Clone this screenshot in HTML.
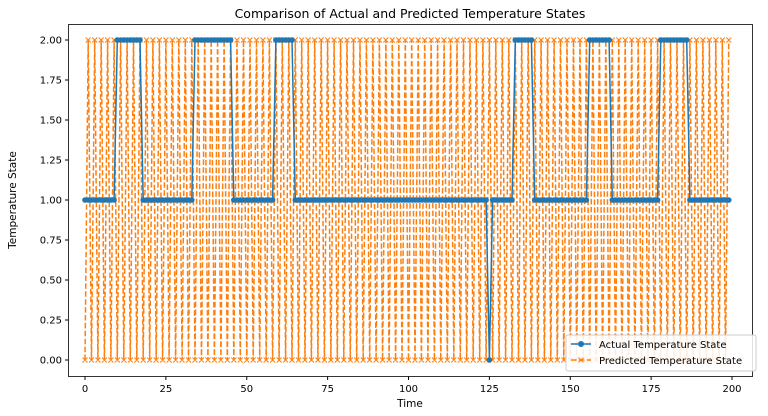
<!DOCTYPE html>
<html><head><meta charset="utf-8"><style>body{margin:0;background:#fff}svg{display:block;font-family:"DejaVu Sans","Liberation Sans",sans-serif}</style></head>
<body>
<svg id="s" width="768" height="416" xmlns="http://www.w3.org/2000/svg"></svg>
<script>
const s=document.getElementById('s');
const X=i=>85+3.235*i, Y=v=>360-160*v;
let h='<rect width="768" height="416" fill="#fff"/>';
let pd='';const pred=[];
for(let i=0;i<200;i++){pred.push(i%2?2:0);}
pred.forEach((v,i)=>{pd+=(i?'L':'M')+X(i).toFixed(1)+' '+Y(v);});
h+='<path d="'+pd+'" fill="none" stroke="#ff7f0e" stroke-width="1.5" stroke-dasharray="5.5,2.4"/>';
let mk='';pred.forEach((v,i)=>{const x=X(i),y=Y(v);mk+=`M${x-2.5} ${y-2.5}L${x+2.5} ${y+2.5}M${x-2.5} ${y+2.5}L${x+2.5} ${y-2.5}`;});
h+='<path d="'+mk+'" stroke="#ff7f0e" stroke-width="1"/>';
const act=[];for(let i=0;i<200;i++){let v=1;
if((i>=10&&i<=17)||(i>=34&&i<=45)||(i>=59&&i<=64)||(i>=133&&i<=138)||(i>=156&&i<=162)||(i>=178&&i<=186))v=2;
if(i==125)v=0;act.push(v);}
let ad='';act.forEach((v,i)=>{ad+=(i?'L':'M')+X(i).toFixed(1)+' '+Y(v);});
h+='<path d="'+ad+'" fill="none" stroke="#1f77b4" stroke-width="1.5"/>';
act.forEach((v,i)=>{h+=`<circle cx="${X(i).toFixed(1)}" cy="${Y(v)}" r="2.8" fill="#1f77b4"/>`;});
h+='<rect x="68.5" y="24.5" width="684" height="352" fill="none" stroke="#000" stroke-width="0.8"/>';
[0,25,50,75,100,125,150,175,200].forEach(t=>{const x=X(t);h+=`<line x1="${x}" y1="376.5" x2="${x}" y2="380" stroke="#000"/><text x="${x}" y="392" font-size="10" text-anchor="middle">${t}</text>`;});
for(let k=0;k<=8;k++){const v=k*0.25,y=Y(v);h+=`<line x1="65" y1="${y}" x2="68.5" y2="${y}" stroke="#000"/><text x="62" y="${y+3.5}" font-size="10" text-anchor="end">${v.toFixed(2)}</text>`;}
h+='<text x="410" y="407" font-size="10.5" text-anchor="middle">Time</text>';
h+='<text transform="translate(16,200) rotate(-90)" font-size="10.5" text-anchor="middle">Temperature State</text>';
h+='<text x="410" y="18" font-size="12.5" text-anchor="middle">Comparison of Actual and Predicted Temperature States</text>';
h+='<rect x="566" y="335" width="190" height="36" rx="2" fill="#fff" fill-opacity="0.85" stroke="#ccc"/>';
h+='<line x1="571" y1="344" x2="591" y2="344" stroke="#1f77b4" stroke-width="1.5"/><circle cx="581" cy="344" r="3" fill="#1f77b4"/><text x="599" y="348" font-size="10">Actual Temperature State</text>';
h+='<line x1="571" y1="360" x2="591" y2="360" stroke="#ff7f0e" stroke-width="1.5" stroke-dasharray="5.5,2.4"/><path d="M578.5 357.5L583.5 362.5M578.5 362.5L583.5 357.5" stroke="#ff7f0e"/><text x="599" y="364" font-size="10">Predicted Temperature State</text>';
s.innerHTML=h;
</script>
</body></html>
